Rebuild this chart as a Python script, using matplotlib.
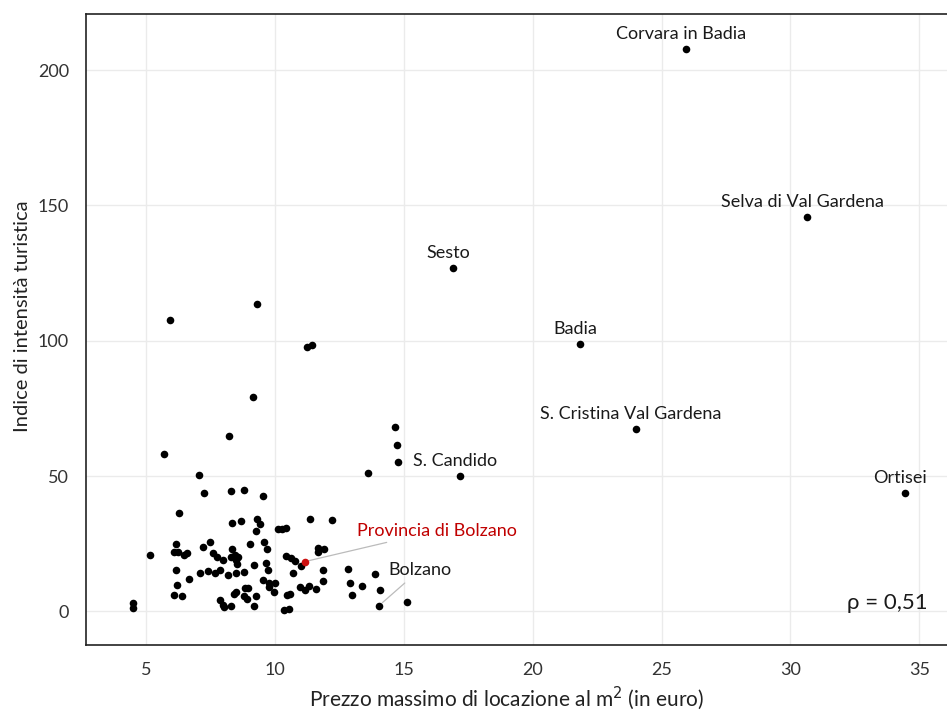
import numpy as np
import matplotlib
matplotlib.use("Agg")
import matplotlib.pyplot as plt

plt.rcParams['font.family'] = ['Lato', 'DejaVu Sans']

# comuni senza etichetta (prezzo max al m2, indice intensita turistica)
x_comuni = [8.24, 5.69, 7.05, 7.27, 8.30, 8.79, 9.55, 6.30, 8.35, 8.68,
            9.33, 9.42, 9.29, 10.14, 10.27, 10.42, 6.19, 7.49, 7.23, 9.05,
            9.60, 9.71, 5.17, 6.10, 6.23, 6.47, 6.60, 7.62, 7.77, 8.00,
            8.36, 8.32, 8.47, 8.58, 8.53, 8.50, 9.20, 9.66, 9.75, 6.16,
            6.68, 7.10, 7.40, 7.68, 7.88, 8.18, 8.50, 8.82, 9.54, 9.76,
            9.79, 10.00, 9.97, 6.22, 6.08, 6.41, 8.44, 8.50, 8.85, 8.96,
            8.82, 8.92, 9.29, 7.88, 7.98, 8.05, 8.30, 9.21, 10.37, 10.55,
            10.47, 10.58, 10.71, 14.66, 14.73, 14.77, 13.61, 11.35, 12.23, 11.66,
            11.66, 11.91, 10.45, 10.64, 10.80, 11.00, 11.87, 12.83, 13.90, 11.87,
            12.91, 13.37, 14.08, 13.01, 10.97, 11.16, 11.33, 11.61, 15.13, 5.95,
            9.33, 11.25, 11.45, 9.14, 4.50, 4.50]
y_comuni = [64.9, 58.1, 50.5, 43.6, 44.6, 44.9, 42.6, 36.2, 32.8, 33.5,
            34.2, 32.2, 29.9, 30.6, 30.3, 30.9, 25.1, 25.6, 24.0, 24.9,
            25.6, 23.2, 21.0, 21.9, 21.9, 21.0, 21.7, 21.6, 20.2, 19.1,
            23.2, 20.1, 20.9, 20.1, 17.7, 18.9, 17.3, 18.0, 15.3, 15.4,
            11.9, 14.1, 14.9, 14.3, 15.3, 13.5, 14.3, 14.6, 11.7, 10.6,
            9.0, 10.5, 7.1, 9.7, 6.0, 5.8, 6.6, 7.3, 8.8, 8.8,
            5.6, 4.7, 5.7, 4.1, 2.5, 1.5, 2.0, 2.2, 0.6, 1.0,
            6.0, 6.4, 14.3, 68.3, 61.6, 55.1, 51.1, 34.0, 33.7, 23.6,
            22.1, 23.1, 20.4, 19.6, 18.6, 16.8, 15.2, 15.6, 13.8, 11.4,
            10.6, 9.5, 7.9, 6.0, 9.0, 7.8, 9.4, 8.4, 3.4, 107.8,
            113.6, 97.7, 98.5, 79.4, 3.0, 1.4]

# comuni con etichetta
nomi = ["Corvara in Badia", "Selva di Val Gardena", "Sesto", "Badia",
        "S. Cristina Val Gardena", "S. Candido", "Ortisei"]
x_nomi = [25.95, 30.64, 16.92, 21.84, 24.01, 17.19, 34.44]
y_nomi = [207.8, 145.9, 126.9, 98.9, 67.4, 50.0, 43.6]

bolzano = ("Bolzano", 14.05, 2.2)
provincia = ("Provincia di Bolzano", 11.16, 18.4)
rho = "0,51"

fig = plt.figure(figsize=(9.47, 7.10), dpi=100)
ax = fig.add_axes([0.0905, 0.0915, 0.9095, 0.8887])

ax.scatter(x_comuni + x_nomi + [bolzano[1]], y_comuni + y_nomi + [bolzano[2]],
           s=30, color="black", linewidths=0, zorder=3)
ax.scatter([provincia[1]], [provincia[2]], s=30, color="#CC1010", linewidths=0, zorder=4)

for nome, xv, yv in zip(nomi, x_nomi, y_nomi):
    ax.annotate(nome, (xv, yv), xytext=(-5, 15), textcoords="offset pixels",
                ha="center", va="center", fontsize=13, color="#1a1a1a")

ax.annotate(bolzano[0], (bolzano[1], bolzano[2]), xytext=(41, 36), textcoords="offset pixels",
            ha="center", va="center", fontsize=13, color="#1a1a1a",
            arrowprops=dict(arrowstyle="-", color="#BBBBBB", lw=0.9, shrinkA=3, shrinkB=3))
ax.annotate(provincia[0], (provincia[1], provincia[2]), xytext=(132, 31), textcoords="offset pixels",
            ha="center", va="center", fontsize=13, color="#C00000",
            arrowprops=dict(arrowstyle="-", color="#BBBBBB", lw=0.9, shrinkA=3, shrinkB=3))

ax.text(0.977, 0.066, "ρ = " + rho, transform=ax.transAxes, ha="right", va="center",
        fontsize=16, color="#1a1a1a")

ax.set_xlim(2.67, 36.07)
ax.set_ylim(-12.4, 220.7)
ax.set_xticks([5, 10, 15, 20, 25, 30, 35])
ax.set_yticks([0, 50, 100, 150, 200])
ax.grid(True, color="#EBEBEB", linewidth=1.0)
ax.set_axisbelow(True)
ax.tick_params(length=0, labelsize=13, labelcolor="#333333", pad=12)

for s in ["left", "bottom", "top"]:
    ax.spines[s].set_color("#222222")
    ax.spines[s].set_linewidth(1.2)
ax.spines["right"].set_visible(False)

ax.set_xlabel("Prezzo massimo di locazione al m$^2$ (in euro)", fontsize=15, color="#222222")
ax.set_ylabel("Indice di intensità turistica", fontsize=14.5, color="#222222")
ax.xaxis.set_label_coords(0.489, -0.062)
ax.yaxis.set_label_coords(-0.064, 0.521)

fig.savefig("out.png", dpi=100)
